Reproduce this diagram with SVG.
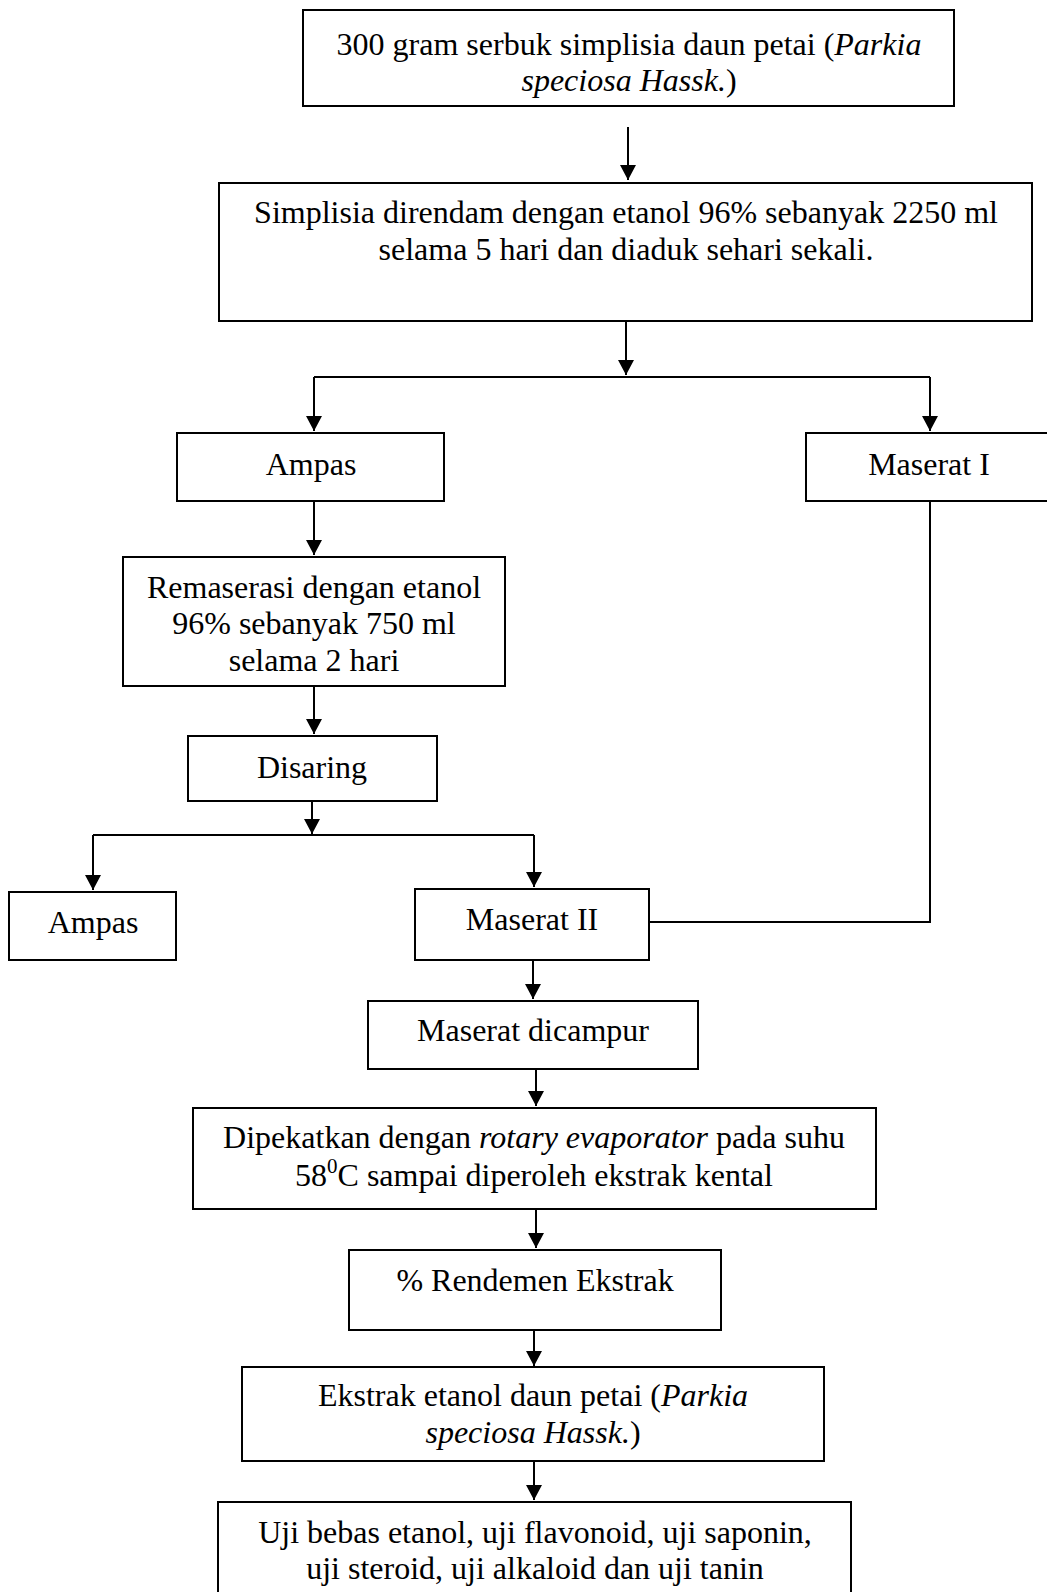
<svg xmlns="http://www.w3.org/2000/svg" width="1047" height="1592" viewBox="0 0 1047 1592">
<defs>
<style>
.box{fill:#fff;stroke:#000;stroke-width:2}
.t{font-family:"Liberation Serif","Times New Roman",serif;font-size:32px;fill:#000;text-anchor:middle}
.i{font-style:italic}
.c{fill:none;stroke:#000;stroke-width:2}
.a{marker-end:url(#ah)}
</style>
<marker id="ah" markerUnits="userSpaceOnUse" markerWidth="15" markerHeight="16" refX="15" refY="8" orient="auto">
<path d="M0,0 L15,8 L0,16 z" fill="#000"/>
</marker>
</defs>
<rect width="1047" height="1592" fill="#fff"/>
<g id="connectors">
<path class="c a" d="M628,127 V180"/>
<path class="c a" d="M626,321 V375"/>
<path class="c" d="M314,377 H930"/>
<path class="c a" d="M314,377 V431"/>
<path class="c a" d="M930,377 V431"/>
<path class="c a" d="M314,501 V555"/>
<path class="c a" d="M314,686 V734"/>
<path class="c a" d="M312,801 V834"/>
<path class="c" d="M93,835 H534"/>
<path class="c a" d="M93,835 V890"/>
<path class="c a" d="M534,835 V887"/>
<path class="c" d="M930,501 V922 H649"/>
<path class="c a" d="M533,960 V999"/>
<path class="c a" d="M536,1069 V1106"/>
<path class="c a" d="M536,1209 V1248"/>
<path class="c a" d="M534,1330 V1366"/>
<path class="c a" d="M534,1461 V1500"/>
</g>
<g id="n1"><rect class="box" x="303" y="10" width="651" height="96"/>
<text class="t" x="629" y="55">300 gram serbuk simplisia daun petai (<tspan class="i">Parkia</tspan></text>
<text class="t" x="629" y="91"><tspan class="i">speciosa Hassk.</tspan>)</text></g>
<g id="n2"><rect class="box" x="219" y="183" width="813" height="138"/>
<text class="t" x="626" y="223">Simplisia direndam dengan etanol 96% sebanyak 2250 ml</text>
<text class="t" x="626" y="260">selama 5 hari dan diaduk sehari sekali.</text></g>
<g id="n3"><rect class="box" x="177" y="433" width="267" height="68"/>
<text class="t" x="311" y="475">Ampas</text></g>
<g id="n4"><rect class="box" x="806" y="433" width="250" height="68"/>
<text class="t" x="929" y="475">Maserat I</text></g>
<g id="n5"><rect class="box" x="123" y="557" width="382" height="129"/>
<text class="t" x="314" y="598">Remaserasi dengan etanol</text>
<text class="t" x="314" y="634">96% sebanyak 750 ml</text>
<text class="t" x="314" y="671">selama 2 hari</text></g>
<g id="n6"><rect class="box" x="188" y="736" width="249" height="65"/>
<text class="t" x="312" y="778">Disaring</text></g>
<g id="n7"><rect class="box" x="9" y="892" width="167" height="68"/>
<text class="t" x="93" y="933">Ampas</text></g>
<g id="n8"><rect class="box" x="415" y="889" width="234" height="71"/>
<text class="t" x="532" y="930">Maserat II</text></g>
<g id="n9"><rect class="box" x="368" y="1001" width="330" height="68"/>
<text class="t" x="533" y="1041">Maserat dicampur</text></g>
<g id="n10"><rect class="box" x="193" y="1108" width="683" height="101"/>
<text class="t" x="534" y="1148">Dipekatkan dengan <tspan class="i">rotary evaporator</tspan> pada suhu</text>
<text class="t" x="534" y="1186">58<tspan font-size="21" dy="-13">0</tspan><tspan dy="13">C sampai diperoleh ekstrak kental</tspan></text></g>
<g id="n11"><rect class="box" x="349" y="1250" width="372" height="80"/>
<text class="t" x="535" y="1291">% Rendemen Ekstrak</text></g>
<g id="n12"><rect class="box" x="242" y="1367" width="582" height="94"/>
<text class="t" x="533" y="1406">Ekstrak etanol daun petai (<tspan class="i">Parkia</tspan></text>
<text class="t" x="533" y="1443"><tspan class="i">speciosa Hassk.</tspan>)</text></g>
<g id="n13"><rect class="box" x="218" y="1502" width="633" height="120"/>
<text class="t" x="535" y="1543">Uji bebas etanol, uji flavonoid, uji saponin,</text>
<text class="t" x="535" y="1579">uji steroid, uji alkaloid dan uji tanin</text></g>
</svg>
